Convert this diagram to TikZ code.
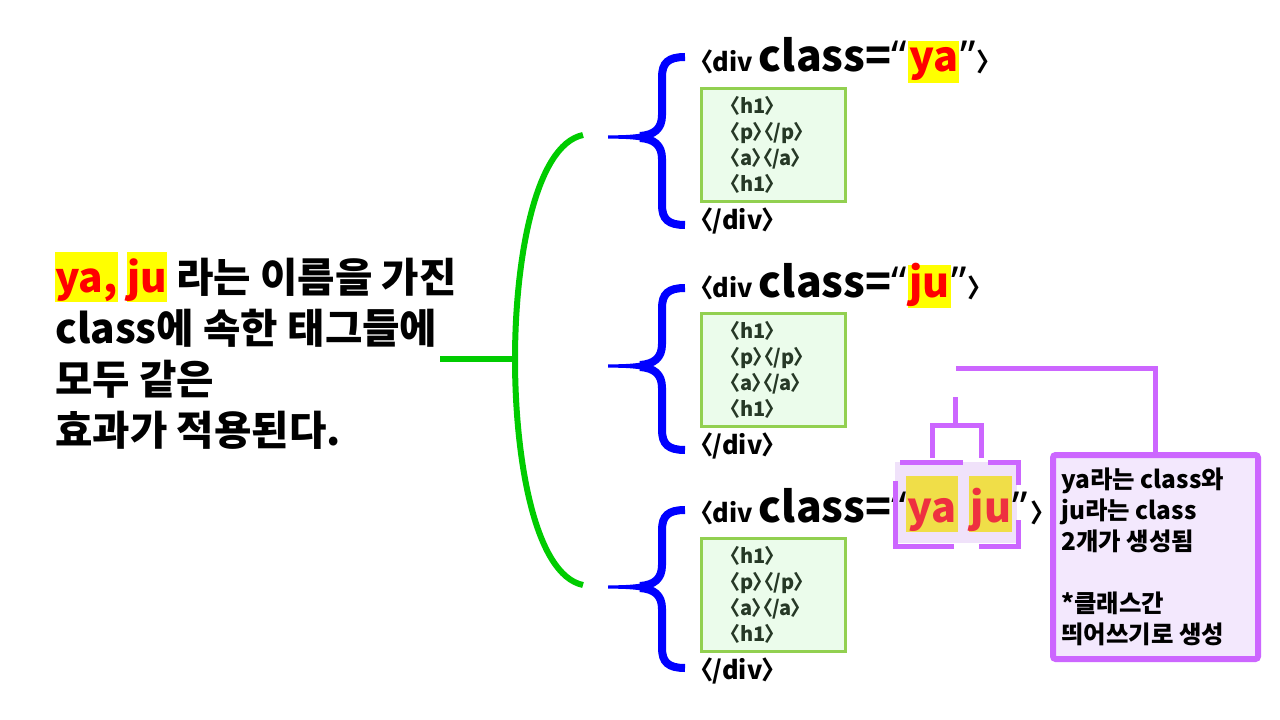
\documentclass[tikz,border=0pt]{standalone}
\usepackage{fontspec}
\setmainfont{Noto Sans CJK KR}
\newfontfamily\krp{Noto Sans CJK KR}[RawFeature=+palt]
\newfontfamily\qf{Noto Sans}
\definecolor{brgreen}{RGB}{0,204,0}
\definecolor{bblue}{RGB}{0,0,255}
\definecolor{boxedge}{RGB}{146,208,80}
\definecolor{boxfill}{RGB}{235,252,235}
\definecolor{codetxt}{RGB}{38,56,38}
\definecolor{pinkl}{RGB}{204,102,255}
\definecolor{notefill}{RGB}{243,232,253}
\definecolor{lav}{RGB}{240,226,250}
\definecolor{hlY}{RGB}{255,255,0}
\definecolor{hlYb}{RGB}{240,222,72}
\definecolor{redb}{RGB}{238,48,64}
\newcommand\hlword[1]{{\setlength\fboxsep{0pt}\colorbox{hlY}{\rule[-0.25em]{0pt}{1.23em}\textcolor{red}{#1}}}}
\newcommand\smallfs{\fontsize{19}{22}\selectfont}
\newcommand\bigfs{\fontsize{32}{36}\selectfont}
\newcommand\bluebrace[3]{%
  \draw[bluebr] (685,#1) .. controls (668,#1) and (662,#1+6) .. (662,#1+20) -- (662,#2-22) .. controls (662,#2-8) and (654,#2-2) .. (640,#2-1);
  \draw[bluebr] (685,#3) .. controls (668,#3) and (662,#3-6) .. (662,#3-20) -- (662,#2+22) .. controls (662,#2+8) and (654,#2+2) .. (640,#2+1);
  \fill[bblue] (646,#2-4) .. controls (630,#2-2) .. (608,#2-1.5) -- (608,#2+1.5) .. controls (630,#2+2) .. (646,#2+4) -- cycle;
}
\begin{document}
\begin{tikzpicture}[x=0.75pt,y=-0.75pt,font=\bfseries,
  greenbr/.style={draw=brgreen,line width=4.5pt},
  bluebr/.style={draw=bblue,line width=6pt},
  codebox/.style={draw=boxedge,fill=boxfill,line width=2.25pt,minimum width=108pt,minimum height=84.75pt,
    align=left,text width=65pt,inner sep=0pt,text=codetxt,font=\krp\bfseries\fontsize{15}{19.5}\selectfont},
  divline/.style={anchor=base west,inner sep=0pt,font=\krp\bfseries},
  quot/.style={anchor=base west,inner sep=0pt,font=\qf\bfseries\fontsize{32}{36}\selectfont},
  hlA/.style={anchor=base west,inner ysep=0pt,inner xsep=1pt,fill=hlY,text=red,font=\krp\bfseries\fontsize{31}{36}\selectfont},
  hlB/.style={anchor=base west,inner ysep=0pt,inner xsep=1pt,fill=hlYb,text=redb,font=\krp\bfseries\fontsize{31}{36}\selectfont},
  pinkln/.style={draw=pinkl,line width=3.75pt},
  notebox/.style={draw=pinkl,fill=notefill,line width=4.5pt,rounded corners=2pt,inner sep=0pt}]
\useasboundingbox (0,0) rectangle (1280,720);
\fill[white] (0,0) rectangle (1280,720);

% left statement
\node[anchor=north west,inner sep=0pt,align=left,font=\bfseries\fontsize{30.5}{38.25}\selectfont] (main) at (55,252)
  {\hlword{ya,} \hlword{ju} 라는 이름을 가진\\class에 속한 태그들에\\모두 같은\\효과가 적용된다.};

% green bracket
\coordinate (gs) at (440,359);
\coordinate (gm) at (515,359);
\coordinate (gt) at (583,135);
\coordinate (gb) at (583,585);
\draw[greenbr] (gt) .. controls (535,145) and (515,260) .. (gm) .. controls (515,460) and (535,575) .. (gb);
\draw[greenbr] (gs) -- (gm);

% blue braces
\bluebrace{57}{137}{225}
\bluebrace{288}{366}{450}
\bluebrace{510}{587}{668}

% block 1
\node[divline] (d1) at (700,72) {\smallfs 〈div \bigfs class=};
\node[quot] (o1) at (d1.base east) {“};
\node[hlA,text height=23.25pt,text depth=8.25pt] (ya1) at (o1.base east) {ya};
\node[quot] (q1) at (ya1.base east) {”};
\node[divline] (r1) at ([xshift=1pt]q1.base east) {\smallfs 〉};
\node[codebox] (b1) at (773.5,145) {〈h1〉\\〈p〉〈/p〉\\〈a〉〈/a〉\\〈h1〉};
\node[divline] (e1) at (700,229) {\smallfs 〈/div〉};

% block 2
\node[divline] (d2) at (700,297) {\smallfs 〈div \bigfs class=};
\node[quot] (o2) at (d2.base east) {“};
\node[hlA,text height=24pt,text depth=8.25pt] (ju2) at (o2.base east) {ju};
\node[quot] (q2) at (ju2.base east) {”};
\node[divline] (r2) at ([xshift=1pt]q2.base east) {\smallfs 〉};
\node[codebox] (b2) at (773.5,370) {〈h1〉\\〈p〉〈/p〉\\〈a〉〈/a〉\\〈h1〉};
\node[divline] (e2) at (700,454) {\smallfs 〈/div〉};

% block 3
\fill[lav] (895,462) rectangle (1017,543);
\node[divline] (d3) at (700,522) {\smallfs 〈div \bigfs class=};
\node[quot] (o3) at (d3.base east) {“};
\node[hlB,text height=34.5pt,text depth=7.5pt] (ya3) at ([xshift=-1pt]o3.base east) {ya};
\node[hlB,text height=34.5pt,text depth=7.5pt] (ju3) at ([xshift=8pt]ya3.base east) {ju};
\node[quot] (q3) at (ju3.base east) {”};
\node[divline] (r3) at ([xshift=2pt]q3.base east) {\smallfs 〉};
\node[codebox] (b3) at (773.5,595) {〈h1〉\\〈p〉〈/p〉\\〈a〉〈/a〉\\〈h1〉};
\node[divline] (e3) at (700,679) {\smallfs 〈/div〉};

% frame around ya ju
\draw[pinkln] (900,462) -- (963,462);
\draw[pinkln] (988,462) -- (1018,462) -- (1018,485);
\draw[pinkln] (895,481) -- (895,546) -- (954,546);
\draw[pinkln] (979,546) -- (1018,546) -- (1018,520);

% note
\node[notebox,anchor=north west,minimum width=153.75pt,minimum height=153pt] (note) at (1050,452) {};
\node[anchor=north west,inner sep=0pt,align=left,font=\bfseries\fontsize{18.3}{23.25}\selectfont] (notetxt) at (1061,468)
  {ya라는 class와\\ju라는 class\\2개가 생성됨\\[23.25pt]*클래스간\\띄어쓰기로 생성};

% connectors
\coordinate (c1) at (956,368);
\draw[pinkln] (c1) -| (note.north);
\coordinate (s0) at (955,397);
\coordinate (s1) at (955,425);
\coordinate (yt) at (932,458);
\coordinate (jt) at (981,458);
\draw[pinkln] (s0) -- (s1);
\draw[pinkln] (yt) |- (s1) -| (jt);
\end{tikzpicture}
\end{document}
